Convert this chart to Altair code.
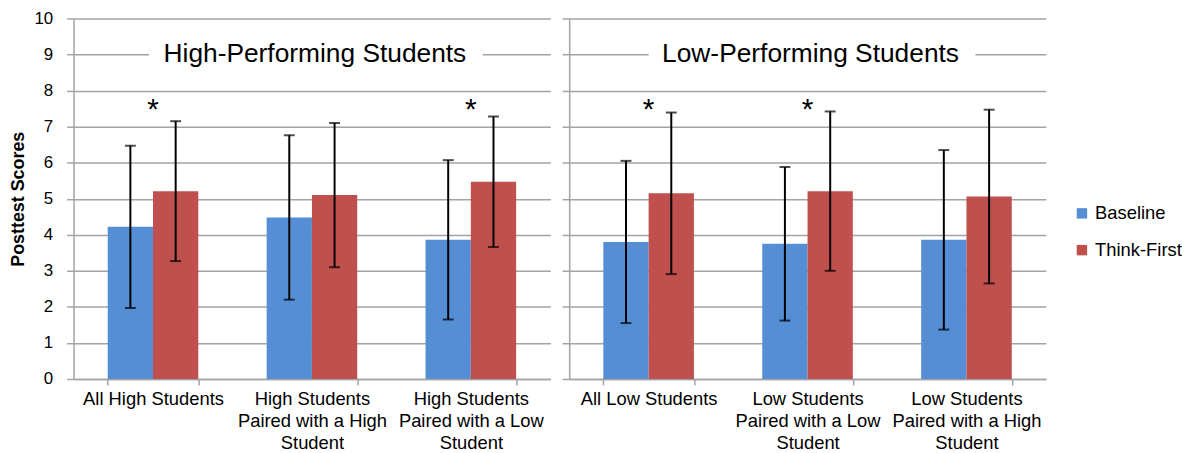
import altair as alt
import pandas as pd

series = ["Baseline", "Think-First"]
colors = ["#558ED5", "#C0504D"]

high_categories = ["All High Students",
                   "High Students|Paired with a High|Student",
                   "High Students|Paired with a Low|Student"]
high_baseline = [4.22, 4.48, 3.86]
high_baseline_err = [2.25, 2.28, 2.21]
high_think = [5.21, 5.10, 5.47]
high_think_err = [1.94, 2.00, 1.81]
high_significant = [True, False, True]

low_categories = ["All Low Students",
                  "Low Students|Paired with a Low|Student",
                  "Low Students|Paired with a High|Student"]
low_baseline = [3.80, 3.75, 3.86]
low_baseline_err = [2.25, 2.13, 2.49]
low_think = [5.15, 5.21, 5.06]
low_think_err = [2.24, 2.21, 2.41]
low_significant = [True, True, False]

panel_titles = ["High-Performing Students", "Low-Performing Students"]
title_level = 9
asterisk_level = 7.55
y_ticks = list(range(0, 11))

FONT = "Liberation Sans"
GRID = "#a3a3a3"
W, H = 480, 363


def panel(cats, base, base_err, think, think_err, sig, title, first, box):
    rows = []
    for c, b, be, t, te in zip(cats, base, base_err, think, think_err):
        rows.append({"cat": c, "series": "Baseline", "value": b, "lo": b - be, "hi": b + be})
        rows.append({"cat": c, "series": "Think-First", "value": t, "lo": t - te, "hi": t + te})
    df = pd.DataFrame(rows)
    stars = pd.DataFrame({"cat": [c for c, s in zip(cats, sig) if s]})
    stars["y"] = asterisk_level
    tdf = pd.DataFrame({"title": [title], "y": [title_level],
                        "y0": [title_level - 0.45], "y1": [title_level + 0.45]})

    yaxis = alt.Axis(values=y_ticks, title="Posttest Scores" if first else None,
                     labels=first, titleFontSize=18, titleFontWeight="bold",
                     titlePadding=6, labelFontSize=17, labelPadding=14, tickSize=7,
                     grid=True)
    yscale = alt.Scale(domain=[0, 10], nice=False)

    def Y(field):
        return alt.Y(field, type="quantitative", scale=yscale, axis=yaxis)

    xaxis = alt.Axis(title=None, labelExpr="split(datum.label, '|')", tickBand="extent",
                     labelAngle=0, labelFontSize=18.5, labelLineHeight=22, labelPadding=5,
                     tickSize=6, labelOverlap=False, grid=False, labelBaseline="top")
    X = alt.X("cat:N", sort=cats, scale=alt.Scale(paddingInner=0.43, paddingOuter=0.215),
              axis=xaxis)
    XO = alt.XOffset("series:N", sort=series, scale=alt.Scale(paddingInner=0, paddingOuter=0))

    box_layer = alt.Chart(tdf).mark_rect(color="white").encode(
        x=alt.value(box[0]), x2=alt.value(box[1]), y=Y("y0"), y2="y1")
    title_layer = alt.Chart(tdf).mark_text(fontSize=26.5, font=FONT, color="black",
                                           baseline="middle").encode(
        x=alt.value(W / 2 + 3), y=Y("y"), text="title:N")
    bars = alt.Chart(df).mark_bar().encode(
        x=X, xOffset=XO, y=Y("value"),
        color=alt.Color("series:N", sort=series,
                        scale=alt.Scale(domain=series, range=colors),
                        legend=alt.Legend(title=None, orient="none", legendX=1006, legendY=187,
                                          symbolType="square", symbolSize=110,
                                          labelFontSize=18.5, rowPadding=18,
                                          symbolStrokeWidth=0, padding=0, labelOffset=4)))
    rules = alt.Chart(df).mark_rule(color="black", strokeWidth=2).encode(
        x=X, xOffset=XO, y=Y("lo"), y2="hi")
    caps_lo = alt.Chart(df).mark_tick(color="black", size=11, thickness=2).encode(
        x=X, xOffset=XO, y=Y("lo"))
    caps_hi = alt.Chart(df).mark_tick(color="black", size=11, thickness=2).encode(
        x=X, xOffset=XO, y=Y("hi"))
    star_layer = alt.Chart(stars).mark_text(text="*", fontSize=30, font=FONT, color="black",
                                            baseline="middle", dy=3).encode(
        x=X, y=Y("y"))
    return alt.layer(box_layer, title_layer, bars, rules, caps_lo, caps_hi, star_layer).properties(
        width=W, height=H)


left = panel(high_categories, high_baseline, high_baseline_err, high_think, high_think_err,
             high_significant, panel_titles[0], True, (76, 412))
right = panel(low_categories, low_baseline, low_baseline_err, low_think, low_think_err,
              low_significant, panel_titles[1], False, (80, 409))

chart = alt.hconcat(left, right, spacing=11).properties(
    padding={"left": 2, "top": 0, "right": 0, "bottom": 0}
).configure_view(stroke=None).configure_axis(
    gridColor=GRID, gridWidth=1.5, domainColor=GRID, domainWidth=1.5,
    tickColor=GRID, tickWidth=1.5, labelFont=FONT, titleFont=FONT,
    labelColor="black", titleColor="black"
).configure_legend(labelFont=FONT, labelColor="black").configure_text(font=FONT)

chart.save("out.html", embed_options={"renderer": "svg", "actions": False})
